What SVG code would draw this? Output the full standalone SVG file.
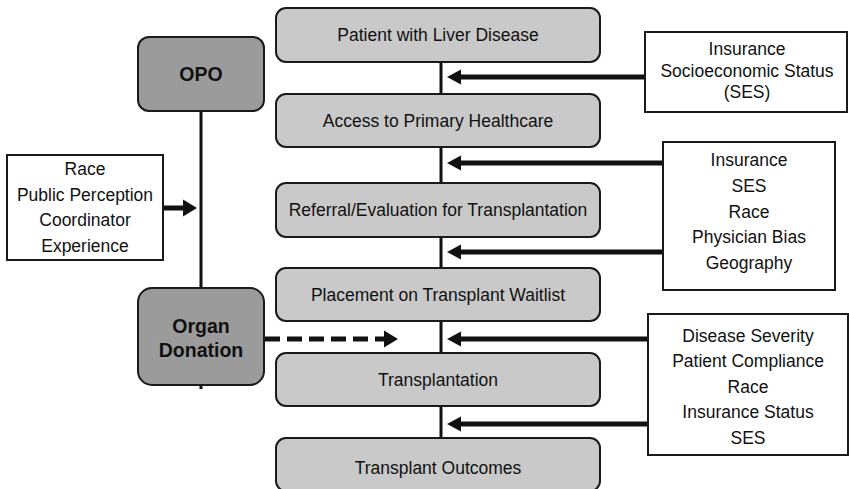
<svg xmlns="http://www.w3.org/2000/svg" width="849" height="489" viewBox="0 0 849 489">
<style>
.step{fill:#c9c9c9;stroke:#1a1a1a;stroke-width:2}
.dark{fill:#9b9b9b;stroke:#1a1a1a;stroke-width:2}
.factor{fill:#ffffff;stroke:#1a1a1a;stroke-width:2}
text{font-family:"Liberation Sans",Arial,sans-serif;font-size:17.5px;fill:#111;text-anchor:middle}
.bold{font-weight:bold;font-size:19.5px}
.conn{stroke:#111;fill:none}
</style>
<defs>
<marker id="head" viewBox="0 -8 16 16" refX="0" refY="0" markerWidth="16" markerHeight="16" markerUnits="userSpaceOnUse" orient="auto" overflow="visible">
<path d="M0,-7.5 L14,0 L0,7.5 z" fill="#111"/>
</marker>
<marker id="headBig" viewBox="0 -9 16 18" refX="0" refY="0" markerWidth="16" markerHeight="18" markerUnits="userSpaceOnUse" orient="auto" overflow="visible">
<path d="M0,-8.5 L14,0 L0,8.5 z" fill="#111"/>
</marker>
</defs>
<rect width="849" height="489" fill="#ffffff"/>
<g id="connectors">
<line class="conn" x1="441" y1="62" x2="441" y2="439" stroke-width="3"/>
<line class="conn" x1="201" y1="111" x2="201" y2="389" stroke-width="3"/>
<line class="conn" x1="645" y1="77" x2="461" y2="77" stroke-width="5" marker-end="url(#head)"/>
<line class="conn" x1="663" y1="163" x2="461" y2="163" stroke-width="5" marker-end="url(#head)"/>
<line class="conn" x1="663" y1="252" x2="461" y2="252" stroke-width="5" marker-end="url(#head)"/>
<line class="conn" x1="648" y1="339" x2="461" y2="339" stroke-width="5" marker-end="url(#head)"/>
<line class="conn" x1="648" y1="424" x2="461" y2="424" stroke-width="5" marker-end="url(#head)"/>
<line class="conn" x1="163" y1="208" x2="183" y2="208" stroke-width="5" marker-end="url(#headBig)"/>
<line class="conn" x1="265" y1="339" x2="384" y2="339" stroke-width="5" stroke-dasharray="15 7" marker-end="url(#headBig)"/>
</g>
<g id="patient">
<rect class="step" x="276" y="8" width="324" height="54" rx="10"/>
<text x="438" y="41">Patient with Liver Disease</text>
</g>
<g id="access">
<rect class="step" x="276" y="94" width="324" height="53" rx="10"/>
<text x="438" y="127">Access to Primary Healthcare</text>
</g>
<g id="referral">
<rect class="step" x="276" y="183" width="324" height="54" rx="10"/>
<text x="438" y="216">Referral/Evaluation for Transplantation</text>
</g>
<g id="placement">
<rect class="step" x="276" y="268" width="324" height="53" rx="10"/>
<text x="438" y="301">Placement on Transplant Waitlist</text>
</g>
<g id="transplantation">
<rect class="step" x="276" y="353" width="324" height="53" rx="10"/>
<text x="438" y="386">Transplantation</text>
</g>
<g id="outcomes">
<rect class="step" x="276" y="438" width="324" height="53" rx="10"/>
<text x="438" y="474">Transplant Outcomes</text>
</g>
<g id="opo">
<rect class="dark" x="138" y="37" width="126" height="74" rx="11"/>
<text class="bold" x="201" y="81">OPO</text>
</g>
<g id="organ-donation">
<rect class="dark" x="138" y="288" width="126" height="97" rx="14"/>
<text class="bold" x="201" y="333">Organ</text>
<text class="bold" x="201" y="357">Donation</text>
</g>
<g id="opo-factors">
<rect class="factor" x="7" y="155" width="156" height="105"/>
<text x="85" y="175">Race</text>
<text x="85" y="201">Public Perception</text>
<text x="85" y="226">Coordinator</text>
<text x="85" y="252">Experience</text>
</g>
<g id="access-factors">
<rect class="factor" x="645" y="32" width="202" height="80"/>
<text x="747" y="55">Insurance</text>
<text x="747" y="77">Socioeconomic Status</text>
<text x="747" y="98">(SES)</text>
</g>
<g id="referral-factors">
<rect class="factor" x="663" y="142" width="172" height="148"/>
<text x="749" y="166">Insurance</text>
<text x="749" y="192">SES</text>
<text x="749" y="218">Race</text>
<text x="749" y="243">Physician Bias</text>
<text x="749" y="269">Geography</text>
</g>
<g id="transplant-factors">
<rect class="factor" x="648" y="314" width="200" height="141"/>
<text x="748" y="342">Disease Severity</text>
<text x="748" y="367">Patient Compliance</text>
<text x="748" y="393">Race</text>
<text x="748" y="418">Insurance Status</text>
<text x="748" y="444">SES</text>
</g>
</svg>
